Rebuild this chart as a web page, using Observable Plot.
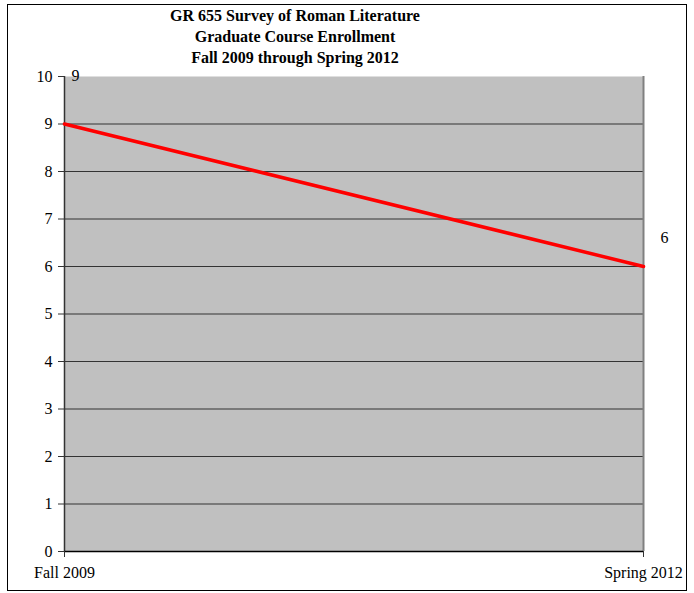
<!DOCTYPE html>
<html>
<head>
<meta charset="utf-8">
<script src="https://cdn.jsdelivr.net/npm/d3@7"></script>
<script src="https://cdn.jsdelivr.net/npm/@observablehq/plot@0.6"></script>
<style>
  html, body { margin: 0; padding: 0; background: #fff; }
  #wrap { position: relative; width: 694px; height: 593px; }
  #border { position: absolute; left: 7px; top: 4px; width: 680px; height: 587px; border: 1px solid #000; box-sizing: border-box; pointer-events: none; }
  svg { display: block; }
  svg, svg text, svg g { font-family: "Liberation Serif", "Times New Roman", serif !important; font-variant: normal !important; }
</style>
</head>
<body>
<div id="wrap"><div id="border"></div></div>
<script>
const titleLines = ["GR 655 Survey of Roman Literature", "Graduate Course Enrollment", "Fall 2009 through Spring 2012"];
const terms = ["Fall 2009", "Spring 2012"];
const enrollment = [9, 6];
const yTicks = [0, 1, 2, 3, 4, 5, 6, 7, 8, 9, 10];
const gridValues = [1, 2, 3, 4, 5, 6, 7, 8, 9];

const data = terms.map((t, i) => ({term: t, value: enrollment[i]}));
const serif = "Liberation Serif";

const chart = Plot.plot({
  width: 694,
  height: 593,
  marginLeft: 64,
  marginRight: 51,
  marginTop: 76,
  marginBottom: 42,
  style: {fontFamily: "'Liberation Serif', 'Times New Roman', serif", fontSize: "16px", color: "#000", background: "transparent"},
  x: {type: "point", domain: terms, padding: 0, label: null},
  y: {domain: [0, 10], label: null},
  marks: [
    Plot.frame({fill: "#c0c0c0", stroke: null}),
    Plot.ruleY(gridValues, {stroke: "#333", strokeWidth: 1}),
    Plot.ruleX([terms[terms.length - 1]], {stroke: "#808080", strokeWidth: 2}),
    Plot.ruleX([terms[0]], {stroke: "#333", strokeWidth: 1.5}),
    Plot.ruleY([0], {stroke: "#000", strokeWidth: 1.5}),
    Plot.axisY({ticks: yTicks, tickSize: 6, tickPadding: 6, fontSize: 16, fontFamily: serif, tickFormat: d => String(d), stroke: "#333"}),
    Plot.axisX({tickSize: 6, tickPadding: 9, fontSize: 16, fontFamily: serif, stroke: "#333"}),
    Plot.line(data, {x: "term", y: "value", stroke: "#ff0000", strokeWidth: 3.5}),
    Plot.text(data.filter((d, i) => i === 0), {x: "term", y: "value", text: d => String(d.value), dx: 11, dy: -48, fontSize: 16, fontFamily: serif}),
    Plot.text(data.filter((d, i) => i === 1), {x: "term", y: "value", text: d => String(d.value), dx: 21, dy: -29, fontSize: 16, fontFamily: serif}),
    Plot.text([titleLines.join("\n")], {frameAnchor: "top", text: d => d, dx: -59, dy: -70, lineAnchor: "top", lineHeight: 1.3, fontWeight: "bold", fontSize: 16, fontFamily: serif})
  ]
});
document.getElementById("wrap").prepend(chart);
</script>
</body>
</html>
